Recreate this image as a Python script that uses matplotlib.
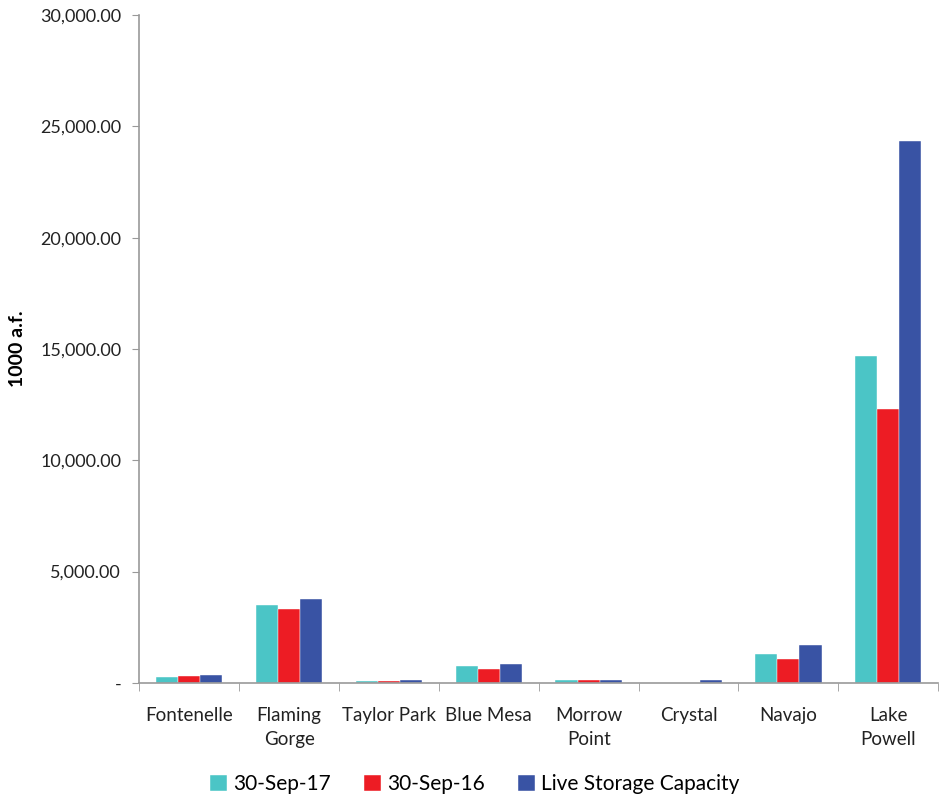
import matplotlib.pyplot as plt
import numpy as np
from matplotlib.ticker import FuncFormatter

reservoirs = ["Fontenelle", "Flaming\nGorge", "Taylor Park", "Blue Mesa",
              "Morrow\nPoint", "Crystal", "Navajo", "Lake\nPowell"]
sep17 = [270, 3500, 100, 760, 110, 15, 1300, 14680]
sep16 = [330, 3310, 100, 615, 110, 15, 1080, 12300]
capacity = [345, 3760, 110, 830, 117, 110, 1700, 24340]

series = [("30-Sep-17", sep17, "#4BC5C6"),
          ("30-Sep-16", sep16, "#ED1C24"),
          ("Live Storage Capacity", capacity, "#3953A4")]

plt.rcParams['font.family'] = ['Lato', 'DejaVu Sans']

fig = plt.figure(figsize=(9.41, 7.95), dpi=100)
ax = fig.add_axes([0.148, 0.141, 0.849, 0.840])

x = np.arange(len(reservoirs))
w = 0.222
for i, (name, vals, color) in enumerate(series):
    ax.bar(x + (i - 1) * w, vals, w, color=color, edgecolor="white",
           linewidth=0.3, label=name)

ax.set_xlim(-0.5, len(reservoirs) - 0.5)
ax.set_ylim(0, 30000)
ax.set_yticks(np.arange(0, 30001, 5000))
ax.yaxis.set_major_formatter(FuncFormatter(lambda v, p: "-" if v == 0 else f"{v:,.2f}"))
ax.set_xticks(x)
ax.set_xticklabels(reservoirs, fontsize=13.5, color="#222222", linespacing=1.5)
ax.set_xticks(np.arange(-0.5, len(reservoirs)), minor=True)
ax.tick_params(axis="x", which="major", length=0, pad=17)
ax.tick_params(axis="x", which="minor", length=6, color="#999999")
ax.tick_params(axis="y", length=5, color="#999999", labelsize=13, labelcolor="#222222", pad=8)

for s in ["top", "right"]:
    ax.spines[s].set_visible(False)
for s in ["left", "bottom"]:
    ax.spines[s].set_color("#999999")
    ax.spines[s].set_linewidth(1.2)

ax.set_ylabel("1000 a.f.", fontsize=14, fontweight="bold", labelpad=10)

ax.legend(loc="upper center", bbox_to_anchor=(0.42, -0.108), ncol=3, frameon=False,
          fontsize=15, handlelength=0.8, handleheight=0.8, handletextpad=0.3,
          columnspacing=1.6)

fig.savefig("out.png", dpi=100)
